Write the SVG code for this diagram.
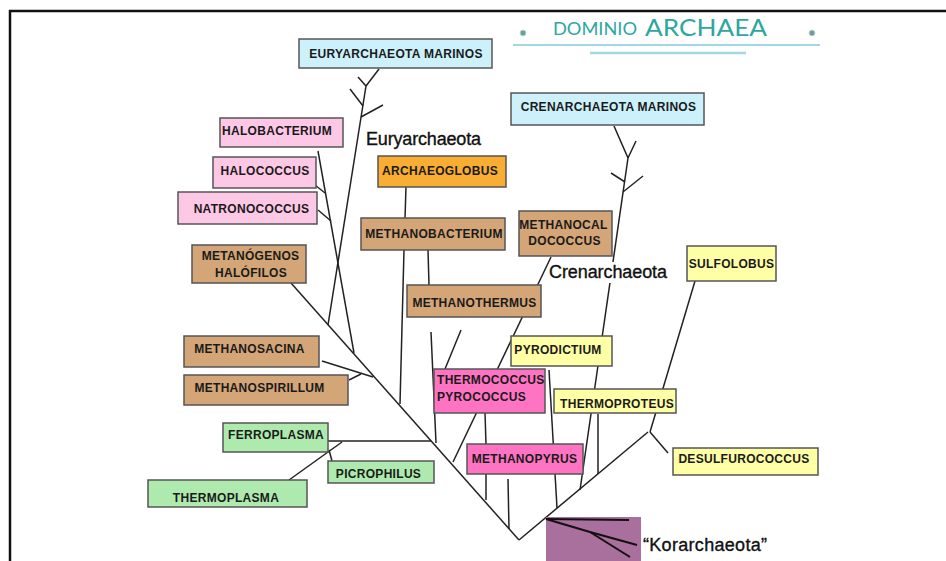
<svg xmlns="http://www.w3.org/2000/svg" width="946" height="561" viewBox="0 0 946 561">
<style>
.box{stroke:#555;stroke-width:1.5}
.t{font-family:"Liberation Sans",Arial,sans-serif;font-weight:bold;font-size:12px;fill:#1a1a1a;text-anchor:middle;letter-spacing:0.3px}
.ts{font-family:"Liberation Sans",Arial,sans-serif;font-weight:bold;font-size:12px;fill:#1a1a1a;letter-spacing:0.3px}
.lbl{font-family:"Liberation Sans",Arial,sans-serif;font-size:18px;fill:#111;stroke:#111;stroke-width:0.35}
.blue{fill:#cdf1fb}.pink{fill:#fdc8e6}.orange{fill:#f9ad33}.tan{fill:#d3a577}.yellow{fill:#ffffa6}.hot{fill:#ff74c2}.green{fill:#aeeaae}
#connectors line{stroke:#222;stroke-width:1.5;fill:none}
#kor line{stroke:#111;stroke-width:2}
</style>
<rect width="946" height="561" fill="#fff"/>
<g id="frame" stroke="#111" stroke-width="2.5" fill="none">
<line x1="9" y1="11" x2="946" y2="11"/>
<line x1="10" y1="10" x2="10" y2="561"/>
</g>
<g id="title">
<circle cx="523" cy="33" r="3" fill="#6c9c9c" stroke="#b8dcdc" stroke-width="1"/>
<circle cx="812" cy="33" r="3" fill="#6c9c9c" stroke="#b8dcdc" stroke-width="1"/>
<line x1="513" y1="45" x2="820" y2="45" stroke="#a2d8e4" stroke-width="2"/>
<line x1="590" y1="53" x2="746" y2="53" stroke="#a2d8e4" stroke-width="2.5"/>
<text x="553" y="35" font-family="Lato,'Open Sans',sans-serif" font-size="17" fill="#2fa6a0" textLength="84" lengthAdjust="spacingAndGlyphs">DOMINIO</text>
<text x="645" y="36" font-family="Lato,'Open Sans',sans-serif" font-size="24" fill="#2fa6a0" textLength="122" lengthAdjust="spacingAndGlyphs">ARCHAEA</text>
</g>
<g id="connectors">
<line x1="291" y1="283" x2="519" y2="540"/>
<line x1="519" y1="540" x2="648" y2="432"/>
<line x1="379" y1="69" x2="366" y2="86"/>
<line x1="358" y1="77" x2="366" y2="86"/>
<line x1="366" y1="86" x2="328" y2="325"/>
<line x1="350" y1="89" x2="363" y2="106"/>
<line x1="383" y1="105" x2="361" y2="117"/>
<line x1="318" y1="151" x2="354" y2="353"/>
<line x1="315" y1="185" x2="325" y2="193"/>
<line x1="318" y1="210" x2="331" y2="221"/>
<line x1="322" y1="361" x2="373" y2="377"/>
<line x1="349" y1="380" x2="361" y2="374"/>
<line x1="406" y1="187" x2="405" y2="218"/>
<line x1="404" y1="250" x2="400" y2="404"/>
<line x1="428" y1="250" x2="429" y2="285"/>
<line x1="431" y1="332" x2="436" y2="443"/>
<line x1="461" y1="330" x2="445" y2="369"/>
<line x1="551" y1="257" x2="453" y2="462"/>
<line x1="485" y1="413" x2="486" y2="444"/>
<line x1="486" y1="474" x2="486" y2="500"/>
<line x1="508" y1="479" x2="509" y2="529"/>
<line x1="549" y1="370" x2="557" y2="508"/>
<line x1="328" y1="441" x2="431" y2="441"/>
<line x1="289" y1="480" x2="342" y2="442"/>
<line x1="332" y1="461" x2="329" y2="450"/>
<line x1="614" y1="126" x2="628" y2="158"/>
<line x1="636" y1="141" x2="628" y2="158"/>
<line x1="628" y1="158" x2="580" y2="490"/>
<line x1="611" y1="173" x2="625" y2="182"/>
<line x1="643" y1="176" x2="623" y2="192"/>
<line x1="598" y1="414" x2="598" y2="474"/>
<line x1="695" y1="281" x2="650" y2="432"/>
<line x1="650" y1="432" x2="668" y2="453"/>
</g>
<g id="korarchaeota">
<rect x="546" y="517" width="95" height="44" fill="#a96f9d"/>
<g id="kor">
<line x1="546" y1="519" x2="629" y2="520"/>
<line x1="546" y1="519" x2="590" y2="532"/>
<line x1="590" y1="532" x2="637" y2="545"/>
<line x1="590" y1="532" x2="630" y2="557"/>
</g>
</g>
<g id="lbl-eury"><text class="lbl" x="366" y="145" textLength="115">Euryarchaeota</text></g>
<g id="lbl-cren"><rect x="550" y="262" width="118" height="21" fill="#fff"/><text class="lbl" x="549" y="278" textLength="118">Crenarchaeota</text></g>
<g id="lbl-kor"><text class="lbl" x="643" y="551" textLength="124">“Korarchaeota”</text></g>
<g id="n-eurymar"><rect class="box blue" x="299" y="39" width="193" height="29"/><text class="t" x="396" y="57.5">EURYARCHAEOTA MARINOS</text></g>
<g id="n-crenmar"><rect class="box blue" x="511" y="93" width="193" height="32"/><text class="t" x="608.5" y="110.5">CRENARCHAEOTA MARINOS</text></g>
<g id="n-halobacterium"><rect class="box pink" x="220" y="118" width="123" height="29"/><text class="t" x="277" y="134.5">HALOBACTERIUM</text></g>
<g id="n-halococcus"><rect class="box pink" x="213" y="157" width="103" height="31"/><text class="t" x="265" y="174.5">HALOCOCCUS</text></g>
<g id="n-natronococcus"><rect class="box pink" x="178" y="192" width="139" height="32"/><text class="t" x="251.5" y="212.5">NATRONOCOCCUS</text></g>
<g id="n-archaeoglobus"><rect class="box orange" x="378" y="156" width="128" height="31"/><text class="t" x="440" y="174.5">ARCHAEOGLOBUS</text></g>
<g id="n-methanobacterium"><rect class="box tan" x="361" y="218" width="144" height="32"/><text class="t" x="434" y="237.5">METHANOBACTERIUM</text></g>
<g id="n-methanocaldococcus"><rect class="box tan" x="519" y="211" width="93" height="45"/><text class="t" x="563.5" y="228.5">METHANOCAL</text><text class="t" x="564.5" y="244.5">DOCOCCUS</text></g>
<g id="n-metanogenos"><rect class="box tan" x="192" y="245" width="114" height="38"/><text class="t" x="250.5" y="259.5">METANÓGENOS</text><text class="t" x="251" y="276.5">HALÓFILOS</text></g>
<g id="n-methanothermus"><rect class="box tan" x="407" y="285" width="134" height="32"/><text class="t" x="474.5" y="306.5">METHANOTHERMUS</text></g>
<g id="n-sulfolobus"><rect class="box yellow" x="687" y="246" width="89" height="35"/><text class="t" x="731.5" y="267.5">SULFOLOBUS</text></g>
<g id="n-pyrodictium"><rect class="box yellow" x="511" y="336" width="101" height="30"/><text class="t" x="558" y="353.5">PYRODICTIUM</text></g>
<g id="n-methanosacina"><rect class="box tan" x="184" y="336" width="135" height="31"/><text class="t" x="249.5" y="352.5">METHANOSACINA</text></g>
<g id="n-methanospirillum"><rect class="box tan" x="184" y="375" width="164" height="30"/><text class="t" x="259.5" y="391.5">METHANOSPIRILLUM</text></g>
<g id="n-thermococcus"><rect class="box hot" x="434" y="369" width="111" height="44"/><text class="ts" x="437" y="383.5">THERMOCOCCUS</text><text class="ts" x="437" y="400.5">PYROCOCCUS</text></g>
<g id="n-thermoproteus"><rect class="box yellow" x="554" y="389" width="122" height="24"/><text class="t" x="617" y="407.5">THERMOPROTEUS</text></g>
<g id="n-ferroplasma"><rect class="box green" x="223" y="423" width="105" height="29"/><text class="t" x="276" y="438.5">FERROPLASMA</text></g>
<g id="n-methanopyrus"><rect class="box hot" x="467" y="444" width="116" height="30"/><text class="t" x="524.5" y="462.5">METHANOPYRUS</text></g>
<g id="n-desulfurococcus"><rect class="box yellow" x="673" y="448" width="145" height="27"/><text class="t" x="744" y="462.5">DESULFUROCOCCUS</text></g>
<g id="n-picrophilus"><rect class="box green" x="328" y="461" width="106" height="22"/><text class="t" x="378.5" y="477.5">PICROPHILUS</text></g>
<g id="n-thermoplasma"><rect class="box green" x="148" y="480" width="159" height="27"/><text class="t" x="226" y="501.5">THERMOPLASMA</text></g>
</svg>
